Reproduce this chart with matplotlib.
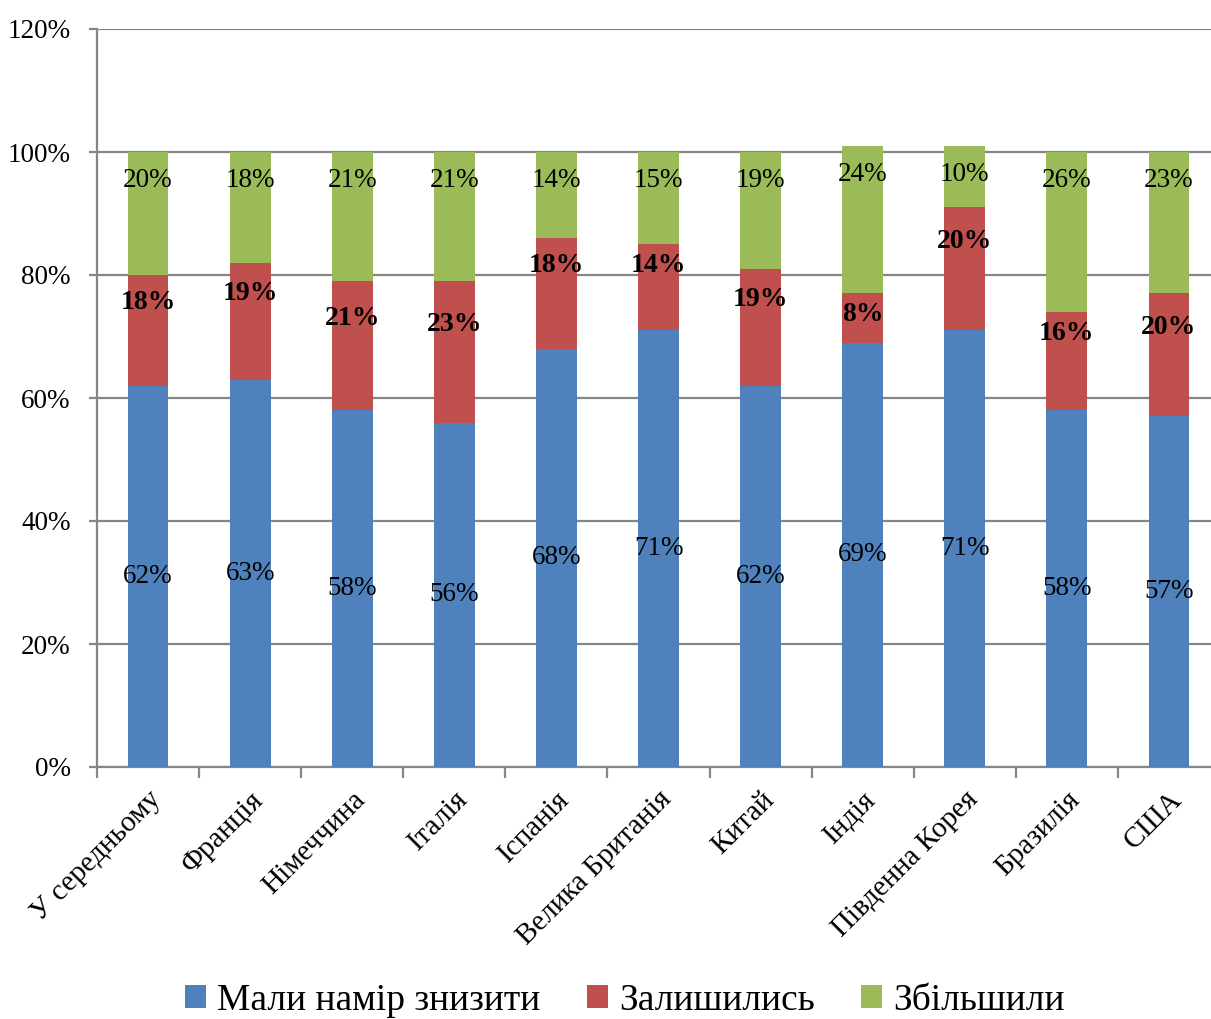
import numpy as np
import matplotlib.pyplot as plt
from matplotlib.ticker import FuncFormatter, FixedLocator

plt.rcParams['font.family'] = ['Liberation Serif', 'DejaVu Serif']

countries = ["У середньому", "Франція", "Німеччина", "Італія", "Іспанія",
             "Велика Британія", "Китай", "Індія", "Південна Корея", "Бразилія", "США"]
reduce_vals = [62, 63, 58, 56, 68, 71, 62, 69, 71, 58, 57]
same_vals = [18, 19, 21, 23, 18, 14, 19, 8, 20, 16, 20]
increase_vals = [20, 18, 21, 21, 14, 15, 19, 24, 10, 26, 23]
series_names = ["Мали намір знизити", "Залишились", "Збільшили"]

blue, red, green = "#4F81BD", "#C0504D", "#9BBB59"
grid_col = "#868686"

fig = plt.figure(figsize=(12.11, 10.19), dpi=100)
ax = fig.add_axes([97 / 1211, 1 - 767 / 1019, 1123 / 1211, 738 / 1019])

x = np.arange(len(countries))
r = np.array(reduce_vals)
s = np.array(same_vals)
g = np.array(increase_vals)
w = 0.4

b1 = ax.bar(x, r, w, color=blue, label=series_names[0], zorder=3)
b2 = ax.bar(x, s, w, bottom=r, color=red, label=series_names[1], zorder=3)
b3 = ax.bar(x, g, w, bottom=r + s, color=green, label=series_names[2], zorder=3)

# value labels
for i in range(len(x)):
    ax.text(x[i], r[i] / 2, f"{r[i]}%", ha='center', va='center', fontsize=19.5, zorder=4)
    top_red = r[i] + s[i]
    y_red = min(r[i] + s[i] / 2 + 4.5, top_red - 3.5)
    ax.text(x[i], y_red, f"{s[i]}%", ha='center', va='center', fontsize=20,
            fontweight='bold', zorder=4)
    total = top_red + g[i]
    ax.text(x[i], total - 4.6, f"{g[i]}%", ha='center', va='center', fontsize=19.5, zorder=4)

ax.set_xlim(-0.5, len(x) - 0.5)
ax.set_ylim(0, 120)
ax.set_yticks(np.arange(0, 121, 20))
ax.yaxis.set_major_formatter(FuncFormatter(lambda v, p: f"{int(v)}%"))
ax.yaxis.grid(True, color=grid_col, linewidth=1.6, zorder=0)

# category ticks sit between bars
ax.xaxis.set_major_locator(FixedLocator(np.arange(-0.5, len(x), 1)))
ax.set_xticklabels([])
ax.set_xticks(x, minor=True)
ax.set_xticklabels(countries, minor=True, rotation=45, ha='right',
                   rotation_mode='anchor', fontsize=21)
ax.tick_params(axis='x', which='minor', length=0, pad=14)
ax.tick_params(axis='x', which='major', length=8, width=1.6, color=grid_col)
ax.tick_params(axis='y', length=6, width=1.6, color=grid_col, labelsize=19.5, pad=13)

for side in ['top', 'right']:
    ax.spines[side].set_visible(False)
for side in ['left', 'bottom']:
    ax.spines[side].set_color(grid_col)
    ax.spines[side].set_linewidth(1.6)

fig.legend(handles=[b1, b2, b3], labels=series_names, loc='center',
           bbox_to_anchor=(0.516, 0.018), ncol=3, frameon=False, fontsize=27,
           handlelength=0.55, handleheight=0.55, handletextpad=0.3, columnspacing=1.25)

fig.savefig("out.png", dpi=100)
